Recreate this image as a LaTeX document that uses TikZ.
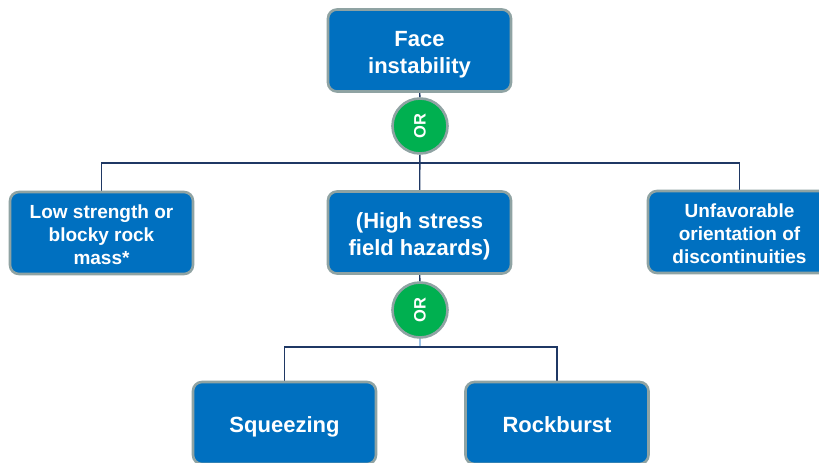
\documentclass[tikz,border=0pt]{standalone}
\usepackage{fontspec}
\setmainfont{Liberation Sans}
\usetikzlibrary{backgrounds}
\definecolor{boxblue}{HTML}{0070C0}
\definecolor{rimgray}{HTML}{8FA3A3}
\definecolor{gategreen}{HTML}{00B050}
\definecolor{linknavy}{HTML}{1F3864}
\definecolor{linklight}{HTML}{9DC3E6}
\tikzset{
  faultbox/.style={draw=rimgray, line width=2.6pt, fill=boxblue, rounded corners=9pt,
    minimum width=183pt, minimum height=82pt, inner sep=0pt},
  boxtext/.style={text=white, align=center, inner sep=0pt},
  bigtext/.style={boxtext, font=\fontsize{22}{27}\selectfont\bfseries},
  smalltext/.style={boxtext, font=\fontsize{19}{23}\selectfont\bfseries},
  orgate/.style={circle, draw=rimgray, line width=2.6pt, fill=gategreen, minimum size=55pt,
    inner sep=0pt, text=white, font=\fontsize{16.5}{18}\selectfont\bfseries},
  link/.style={draw=linknavy, line width=1.4pt},
  lightlink/.style={draw=linklight, line width=1.4pt}
}
\begin{document}
\begin{tikzpicture}[x=1pt,y=-1pt]
\useasboundingbox (0,0) rectangle (819,463);
% events
\node[faultbox, label={[bigtext, yshift=-4pt]center:{Face\\instability}}] (top) at (419.5,50.5) {};
\node[orgate] (or1) at (420,126) {\rotatebox{90}{OR}};
\node[faultbox, label={[smalltext, yshift=-2pt]center:{Low strength or\\blocky rock\\mass*}}] (low) at (101.5,233) {};
\node[faultbox, label={[bigtext, yshift=-4pt]center:{(High stress\\field hazards)}}] (mid) at (419.5,232.5) {};
\node[faultbox, label={[smalltext, yshift=-2pt]center:{Unfavorable\\orientation of\\discontinuities}}] (unf) at (739.5,232) {};
\node[orgate] (or2) at (420,310) {\rotatebox{90}{OR}};
\node[faultbox, label={[bigtext, yshift=-4pt]center:{Squeezing}}] (sq) at (284.5,423) {};
\node[faultbox, label={[bigtext, yshift=-2pt]center:{Rockburst}}] (rb) at (557,423) {};
\coordinate (j1) at (420,163);
\coordinate (j2) at (420,347);
% white page and connectors behind the boxes
\begin{scope}[on background layer]
\fill[white] (0,0) rectangle (819,463);
\draw[link] (top) -- (or1);
\draw[link] (or1) -- (mid);
\draw[link] (low.north) |- (j1) -| (unf.north);
\draw[link] (mid) -- (or2);
\draw[lightlink] (or2) -- (j2);
\draw[link] (sq.north) |- (j2) -| (rb.north);
\end{scope}
\end{tikzpicture}
\end{document}
